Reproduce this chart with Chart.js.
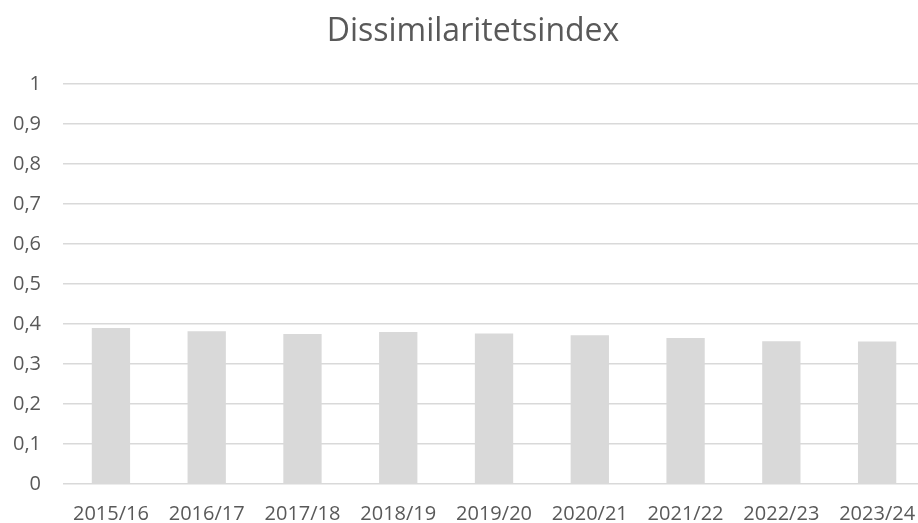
<!DOCTYPE html>
<html lang="sv">
<head>
  <meta charset="UTF-8" />
  <title>Dissimilaritetsindex</title>
  <script src="https://cdn.jsdelivr.net/npm/chart.js"></script>
  <style>
    * { margin: 0; padding: 0; box-sizing: border-box; }
    body { background: #fff; width: 918px; height: 523px; overflow: hidden; position: relative;
           font-family: 'Open Sans', 'Noto Sans', sans-serif; }
    /* the reference is cropped, so the chart is larger than the window and shifted */
    .chart-box { position: absolute; left: -22px; top: 0; width: 991px; height: 538px; }
    .chart-title {
      position: absolute; left: 223px; top: 13px; width: 500px;
      text-align: center; font-size: 32px; line-height: 1; color: #595959; font-weight: normal;
    }
  </style>
</head>
<body>
  <div class="chart-box">
    <canvas id="indexChart"></canvas>
  </div>
  <div class="chart-title">Dissimilaritetsindex</div>

  <script>
    // data
    const years = ["2015/16", "2016/17", "2017/18", "2018/19", "2019/20", "2020/21", "2021/22", "2022/23", "2023/24"];
    const indexValues = [0.390, 0.382, 0.375, 0.380, 0.376, 0.372, 0.365, 0.357, 0.356];
    const yMin = 0;
    const yMax = 1;
    const yStep = 0.1;

    const textColor = "#595959";
    const fontFamily = "'Open Sans', 'Noto Sans', sans-serif";

    new Chart(document.getElementById("indexChart"), {
      type: "bar",
      data: {
        labels: years,
        datasets: [{
          label: "Dissimilaritetsindex",
          data: indexValues,
          backgroundColor: "#d9d9d9",
          barPercentage: 1,
          categoryPercentage: 0.4
        }]
      },
      options: {
        responsive: true,
        maintainAspectRatio: false,
        animation: false,
        // title is drawn as html above, top padding keeps room for it
        layout: { padding: { left: 13, right: 44, top: 84, bottom: 2 } },
        plugins: {
          legend: { display: false },
          tooltip: { enabled: false },
          title: { display: false }
        },
        scales: {
          x: {
            grid: { display: false },
            border: { display: false },
            ticks: {
              color: textColor,
              font: { family: fontFamily, size: 20 },
              padding: 10,
              maxRotation: 0
            }
          },
          y: {
            min: yMin,
            max: yMax,
            border: { display: false },
            grid: { color: "#d9d9d9", lineWidth: 1.5, drawTicks: false },
            ticks: {
              stepSize: yStep,
              color: textColor,
              font: { family: fontFamily, size: 20 },
              padding: 22,
              callback: v => Number(v.toFixed(1)).toString().replace(".", ",")
            }
          }
        }
      }
    });
  </script>
</body>
</html>
